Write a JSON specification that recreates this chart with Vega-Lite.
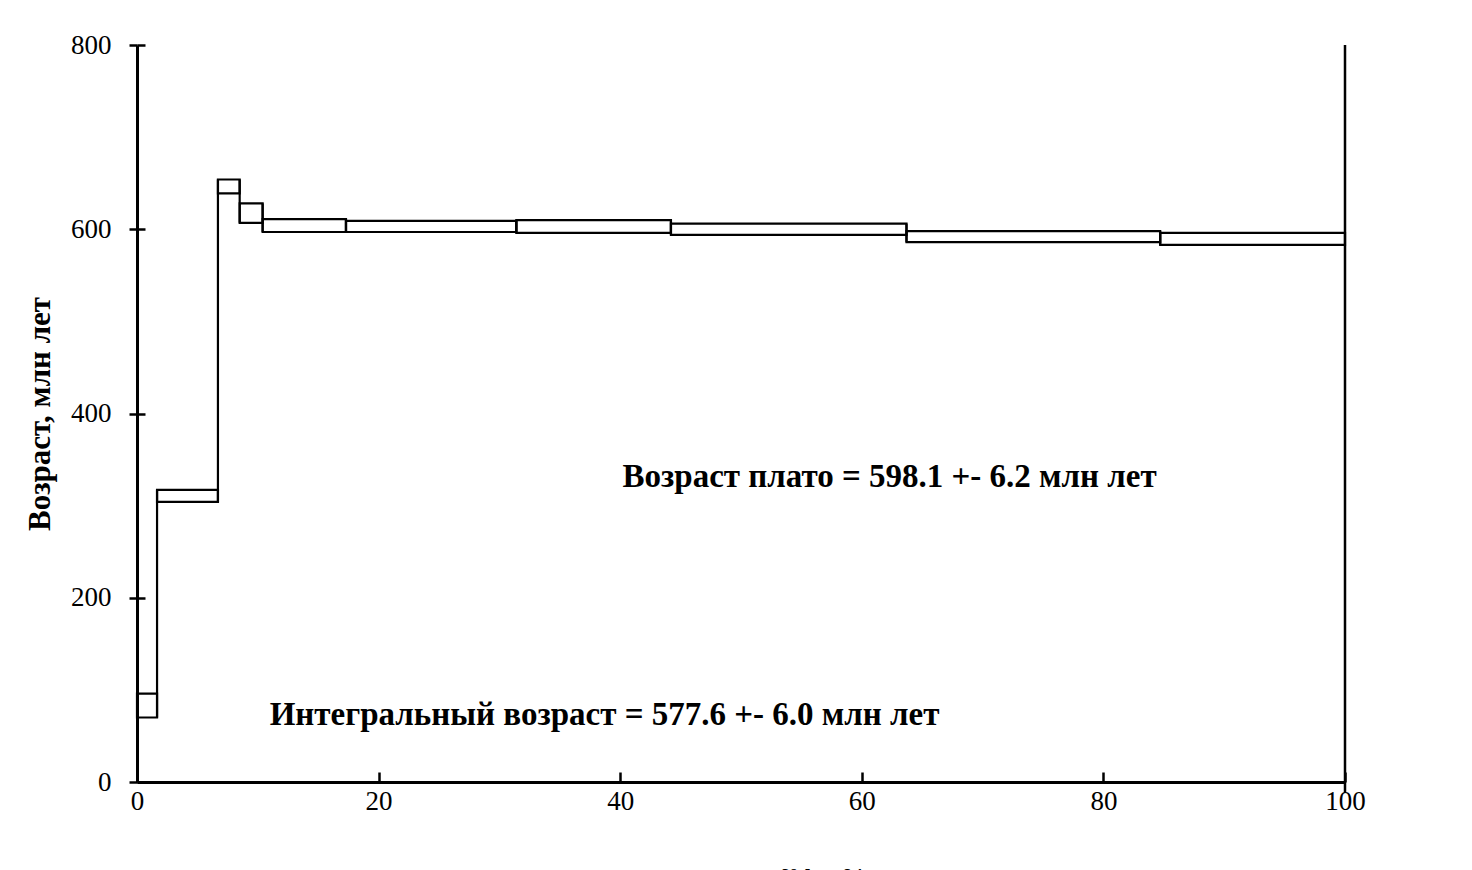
{
  "$schema": "https://vega.github.io/schema/vega-lite/v6.json",
  "width": 1208,
  "height": 737,
  "autosize": {"type": "none"},
  "padding": {"left": 137, "top": 45, "right": 127, "bottom": 88},
  "background": "white",
  "config": {
    "view": {"stroke": null},
    "font": "Liberation Serif",
    "axis": {"grid": false, "labelFont": "Liberation Serif", "titleFont": "Liberation Serif", "labelColor": "black", "titleColor": "black", "domainColor": "black", "tickColor": "black"}
  },
  "datasets": {
    "steps": [
      {"x1": 0, "x2": 1.66, "lo": 70, "hi": 96},
      {"x1": 1.66, "x2": 6.7, "lo": 304, "hi": 317},
      {"x1": 6.7, "x2": 8.5, "lo": 639, "hi": 654},
      {"x1": 8.5, "x2": 10.4, "lo": 607, "hi": 628},
      {"x1": 10.4, "x2": 17.3, "lo": 597, "hi": 611},
      {"x1": 17.3, "x2": 31.4, "lo": 597, "hi": 609},
      {"x1": 31.4, "x2": 44.2, "lo": 596, "hi": 610},
      {"x1": 44.2, "x2": 63.7, "lo": 594, "hi": 606},
      {"x1": 63.7, "x2": 84.7, "lo": 586, "hi": 598},
      {"x1": 84.7, "x2": 100, "lo": 583, "hi": 596}
    ],
    "joins": [
      {"x": 1.66, "lo": 70, "hi": 317},
      {"x": 6.7, "lo": 304, "hi": 654},
      {"x": 8.5, "lo": 607, "hi": 654},
      {"x": 10.4, "lo": 597, "hi": 628},
      {"x": 17.3, "lo": 597, "hi": 611},
      {"x": 31.4, "lo": 596, "hi": 610},
      {"x": 44.2, "lo": 594, "hi": 610},
      {"x": 63.7, "lo": 586, "hi": 606},
      {"x": 84.7, "lo": 583, "hi": 598}
    ],
    "notes": [
      {"x": 62.3, "y": 331, "label": "Возраст плато = 598.1 +- 6.2 млн лет"},
      {"x": 38.7, "y": 72.5, "label": "Интегральный возраст = 577.6 +- 6.0 млн лет"}
    ],
    "border": [{"x": 100, "y1": -12, "y2": 800}]
  },
  "resolve": {"axis": {"y": "independent"}},
  "layer": [
    {
      "data": {"name": "steps"},
      "mark": {"type": "rect", "fillOpacity": 0, "stroke": "black", "strokeWidth": 2.2},
      "encoding": {
        "x": {"field": "x1", "type": "quantitative",
          "scale": {"domain": [0, 100], "nice": false, "zero": false},
          "axis": {"values": [0, 20, 40, 60, 80, 100], "tickSize": -10, "tickWidth": 2.5, "domainWidth": 3, "labelFontSize": 27, "labelPadding": 16, "labelFlush": false, "title": "³⁹Ar, %", "titleFontSize": 27, "titleY": 83, "titleBaseline": "top", "titleX": 687}},
        "x2": {"field": "x2"},
        "y": {"field": "lo", "type": "quantitative",
          "scale": {"domain": [0, 800], "nice": false},
          "axis": {"orient": "left", "values": [0, 200, 400, 600, 800], "tickSize": 8, "tickWidth": 2.5, "domainWidth": 3, "labelFontSize": 27, "labelPadding": 18, "title": "Возраст,  млн лет", "titleFontSize": 31, "titleFontWeight": "bold", "titlePadding": 14}},
        "y2": {"field": "hi"}
      }
    },
    {
      "data": {"name": "joins"},
      "mark": {"type": "rule", "stroke": "black", "strokeWidth": 2.2},
      "encoding": {
        "x": {"field": "x", "type": "quantitative", "scale": {"domain": [0, 100], "nice": false}},
        "y": {"field": "lo", "type": "quantitative", "scale": {"domain": [0, 800], "nice": false}, "axis": null},
        "y2": {"field": "hi"}
      }
    },
    {
      "data": {"name": "border"},
      "mark": {"type": "rule", "stroke": "black", "strokeWidth": 2.5},
      "encoding": {
        "x": {"field": "x", "type": "quantitative", "scale": {"domain": [0, 100], "nice": false}},
        "y": {"field": "y1", "type": "quantitative", "scale": {"domain": [0, 800], "nice": false},
          "axis": {"orient": "left", "values": [0, 200, 400, 600, 800], "tickSize": -8, "tickWidth": 2.5, "domain": false, "labels": false, "title": null}},
        "y2": {"field": "y2"}
      }
    },
    {
      "data": {"name": "notes"},
      "mark": {"type": "text", "font": "Liberation Serif", "fontWeight": "bold", "fontSize": 33, "color": "black", "align": "center", "baseline": "middle"},
      "encoding": {
        "x": {"field": "x", "type": "quantitative", "scale": {"domain": [0, 100], "nice": false}},
        "y": {"field": "y", "type": "quantitative", "scale": {"domain": [0, 800], "nice": false}, "axis": null},
        "text": {"field": "label"}
      }
    }
  ]
}
